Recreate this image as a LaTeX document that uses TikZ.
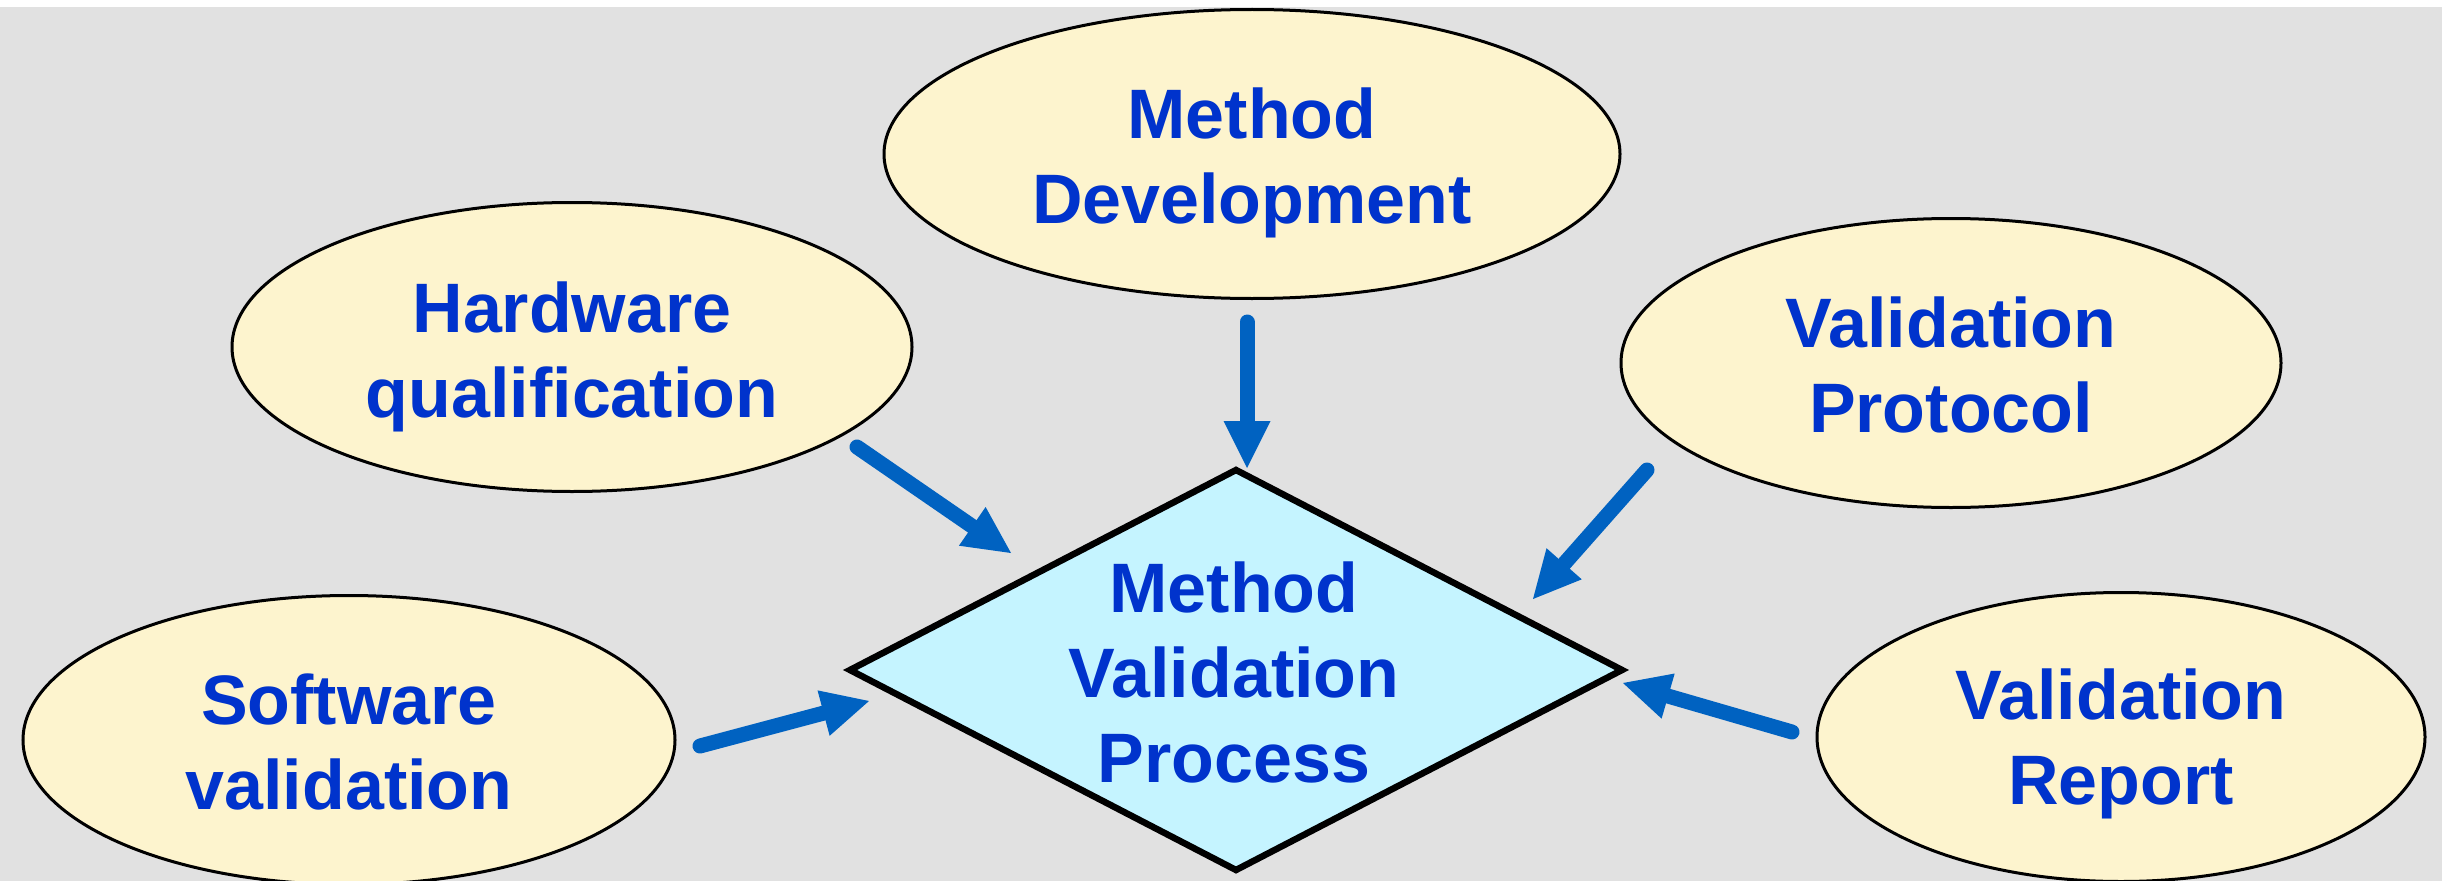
\documentclass[tikz,border=0pt]{standalone}
\usepackage{fontspec}
\setmainfont{Liberation Sans}
\usetikzlibrary{shapes.geometric,arrows.meta}

% one drawing unit = one pixel of a 2442 x 881 canvas
\newdimen\pxu \pxu=0.75pt

\definecolor{canvas}{RGB}{225,225,225}
\definecolor{stagefill}{RGB}{253,244,206}
\definecolor{processfill}{RGB}{197,244,255}
\definecolor{labelblue}{RGB}{0,51,204}
\definecolor{flowblue}{RGB}{0,98,193}

\tikzset{
  stage/.style={ellipse, draw=black, line width=3\pxu, fill=stagefill,
    inner sep=0pt, minimum height=289\pxu},
  process/.style={diamond, draw=black, line width=6.5\pxu, fill=processfill,
    inner sep=0pt, outer sep=0pt, line join=miter},
  caption/.style={text=labelblue, align=center, inner sep=0pt, text depth=0pt,
    font=\bfseries\fontsize{52.5pt}{63.75pt}\selectfont},
  feed/.style={draw=flowblue, line width=11.25pt, line cap=round,
    -{Triangle[length=35.25pt, width=35.25pt, line width=0pt]}},
}

\begin{document}
\begin{tikzpicture}[x=\pxu, y=-\pxu]
  \useasboundingbox (0,0) rectangle (2442,881);
  \fill[white] (0,0) rectangle (2442,881);
  \fill[canvas] (0,7) rectangle (2442,881);

  % input stages
  \node[stage, minimum width=736\pxu] (md) at (1252,154) {};
  \node[stage, minimum width=680\pxu] (hw) at (572,347) {};
  \node[stage, minimum width=660\pxu] (vp) at (1951,363) {};
  \node[stage, minimum width=652\pxu] (sw) at (349,740) {};
  \node[stage, minimum width=608\pxu] (vr) at (2121,737) {};

  % central process
  \node[process, minimum width=772\pxu, minimum height=400\pxu] (mvp) at (1236,670) {};

  % labels (yshift is measured upwards on the page)
  \node[caption] (mdt) at ([yshift=-2\pxu]md.center) {Method\\Development};
  \node[caption] (hwt) at ([yshift=-3\pxu]hw.center) {Hardware\\qualification};
  \node[caption] (vpt) at ([yshift=-2\pxu]vp.center) {Validation\\Protocol};
  \node[caption] (swt) at ([yshift=-2\pxu]sw.center) {Software\\validation};
  \node[caption] (vrt) at ([yshift=0\pxu]vr.center) {Validation\\Report};
  \node[caption] (mvpt) at ([xshift=-2\pxu, yshift=-2\pxu]mvp.center) {Method\\Validation\\Process};

  % arrow ends
  \coordinate (mdS) at (1247,322);  \coordinate (mdE) at (1247,468);
  \coordinate (hwS) at (857,447);   \coordinate (hwE) at (1011,553);
  \coordinate (vpS) at (1647,470);  \coordinate (vpE) at (1533,599);
  \coordinate (vrS) at (1792,732);  \coordinate (vrE) at (1623,683);
  \coordinate (swS) at (700,746);   \coordinate (swE) at (869,701);

  \draw[feed] (mdS) -- (mdE);
  \draw[feed] (hwS) -- (hwE);
  \draw[feed] (vpS) -- (vpE);
  \draw[feed] (vrS) -- (vrE);
  \draw[feed] (swS) -- (swE);
\end{tikzpicture}
\end{document}
